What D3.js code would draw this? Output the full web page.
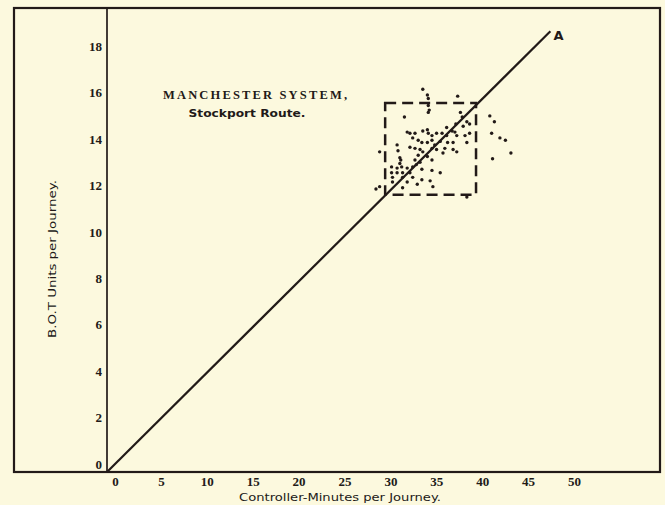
<!DOCTYPE html>
<html>
<head>
<meta charset="utf-8">
<script src="https://cdn.jsdelivr.net/npm/d3@7"></script>
<style>
  html, body { margin: 0; padding: 0; background: #fcf9de; }
  svg { display: block; }
</style>
</head>
<body>
<div id="chart"></div>
<script>
// ---- data ----
const xTicks = [0, 5, 10, 15, 20, 25, 30, 35, 40, 45, 50];
const yTicks = [0, 2, 4, 6, 8, 10, 12, 14, 16, 18];
const titleMain = "MANCHESTER SYSTEM,";
const titleSub = "Stockport Route.";
const xTitle = "Controller-Minutes per Journey.";
const yTitle = "B.O.T Units per Journey.";
const lineA = [[0, 0], [48.3, 19.0]];
const lineLabel = "A";
const boxX = [30.3, 40.2];
const boxY = [11.95, 15.9];
const pointsX = [34.4,34.9,35.0,38.2,35.0,35.1,35.0,32.4,38.5,38.7,41.7,42.2,39.2,38.8,39.5,
  32.7,33.0,33.55,34.4,34.9,35.0,35.4,35.9,36.5,37.0,37.6,37.9,38.1,39.0,39.5,41.9,42.8,43.4,
  33.3,33.9,34.3,34.9,35.4,35.7,36.3,37.1,37.7,39.2,31.6,33.0,33.55,34.1,34.4,35.4,35.9,36.8,
  37.7,31.7,29.7,33.9,34.9,36.6,38.1,42.0,44.0,31.9,33.55,34.1,35.4,31.9,31.0,31.6,32.1,32.7,
  33.3,31.0,31.6,32.2,33.0,36.3,31.1,32.2,33.3,34.3,35.2,31.1,32.7,33.8,29.7,29.3,32.2,35.5,
  39.2,35.4,37.0,38.0,34.3,32.0,33.7];
const pointsY = [16.5,16.25,16.1,16.2,15.8,15.6,15.5,15.3,15.5,15.3,15.35,15.1,15.1,14.9,15.0,
  14.65,14.6,14.6,14.7,14.75,14.6,14.5,14.6,14.6,14.5,14.7,14.65,14.5,14.5,14.6,14.6,14.4,14.3,
  14.4,14.3,14.2,14.2,14.3,14.1,14.25,14.2,14.2,14.2,14.1,14.0,13.95,13.9,13.8,13.95,13.9,13.95,
  13.9,13.85,13.8,13.65,13.6,13.75,13.8,13.5,13.75,13.55,13.45,13.35,13.45,13.3,13.15,13.1,13.15,13.1,
  13.15,12.9,12.9,12.9,12.9,12.9,12.7,12.7,12.7,12.6,12.55,12.5,12.5,12.4,12.3,12.2,12.25,12.3,
  11.85,13.0,14.85,15.0,13.05,13.45,13.25];

// ---- layout ----
const W = 665, H = 505;
const frame = { left: 14, top: 8, right: 660, bottom: 472 };
const axisX0 = 107;
const ink = "#221a18";

const svg = d3.select("#chart").append("svg")
  .attr("width", W).attr("height", H);
svg.append("rect").attr("width", W).attr("height", H).attr("fill", "#fcf9de");

const x = d3.scaleLinear().domain([0, 60.24]).range([axisX0, frame.right]);
const y = d3.scaleLinear().domain([0, 20]).range([frame.bottom, frame.top]);

// frame
svg.append("rect")
  .attr("x", frame.left).attr("y", frame.top)
  .attr("width", frame.right - frame.left).attr("height", frame.bottom - frame.top)
  .attr("fill", "none").attr("stroke", ink).attr("stroke-width", 2.2);
// vertical axis line
svg.append("line")
  .attr("x1", axisX0).attr("x2", axisX0).attr("y1", frame.top).attr("y2", frame.bottom)
  .attr("stroke", ink).attr("stroke-width", 1.7);

// axes (labels only)
const gx = svg.append("g").attr("transform", `translate(0,${frame.bottom})`)
  .call(d3.axisBottom(x).tickValues(xTicks).tickSize(0).tickPadding(5).tickFormat(d3.format("d")));
gx.select(".domain").remove();
gx.selectAll("text").attr("x", 8)
  .attr("font-family", "'Liberation Serif', 'DejaVu Serif', serif")
  .attr("font-weight", "bold").attr("font-size", 13).attr("fill", ink);

const gy = svg.append("g").attr("transform", `translate(${axisX0},0)`)
  .call(d3.axisLeft(y).tickValues(yTicks).tickSize(0).tickPadding(5).tickFormat(d3.format("d")));
gy.select(".domain").remove();
gy.selectAll("text").attr("y", -8)
  .attr("font-family", "'Liberation Serif', 'DejaVu Serif', serif")
  .attr("font-weight", "bold").attr("font-size", 13).attr("fill", ink);

// line A
svg.append("line")
  .attr("x1", x(lineA[0][0])).attr("y1", y(lineA[0][1]))
  .attr("x2", x(lineA[1][0])).attr("y2", y(lineA[1][1]))
  .attr("stroke", ink).attr("stroke-width", 2.2);
svg.append("text")
  .attr("x", x(lineA[1][0]) + 3).attr("y", y(lineA[1][1]) + 9)
  .attr("font-family", "'DejaVu Sans', sans-serif").attr("font-weight", "bold")
  .attr("font-size", 13).attr("fill", ink).text(lineLabel);

// dashed box
svg.append("rect")
  .attr("x", x(boxX[0])).attr("y", y(boxY[1]))
  .attr("width", x(boxX[1]) - x(boxX[0])).attr("height", y(boxY[0]) - y(boxY[1]))
  .attr("fill", "none").attr("stroke", ink).attr("stroke-width", 2.5)
  .attr("stroke-dasharray", "11,6");

// points
const pts = pointsX.map((v, i) => [v, pointsY[i]]);
svg.append("g").selectAll("circle").data(pts).join("circle")
  .attr("cx", d => x(d[0])).attr("cy", d => y(d[1])).attr("r", 1.7)
  .attr("fill", ink);

// titles
svg.append("text").attr("x", 255).attr("y", 99).attr("text-anchor", "middle")
  .attr("font-family", "'Liberation Serif', 'DejaVu Serif', serif")
  .attr("font-weight", "bold").attr("font-size", 12.5)
  .attr("textLength", 184).attr("lengthAdjust", "spacing")
  .attr("fill", ink).text(titleMain);
svg.append("text").attr("x", 247).attr("y", 117).attr("text-anchor", "middle")
  .attr("font-family", "'DejaVu Sans', sans-serif")
  .attr("font-weight", "bold").attr("font-size", 10.5)
  .attr("textLength", 117).attr("lengthAdjust", "spacingAndGlyphs")
  .attr("fill", ink).text(titleSub);

svg.append("text").attr("x", 340).attr("y", 501).attr("text-anchor", "middle")
  .attr("font-family", "'DejaVu Sans', sans-serif")
  .attr("font-size", 11).attr("textLength", 202).attr("lengthAdjust", "spacingAndGlyphs")
  .attr("fill", ink).text(xTitle);

svg.append("text")
  .attr("transform", "translate(56,259) rotate(-90)")
  .attr("text-anchor", "middle")
  .attr("font-family", "'DejaVu Sans', sans-serif")
  .attr("font-size", 11).attr("textLength", 158).attr("lengthAdjust", "spacingAndGlyphs")
  .attr("fill", ink).text(yTitle);
</script>
</body>
</html>
